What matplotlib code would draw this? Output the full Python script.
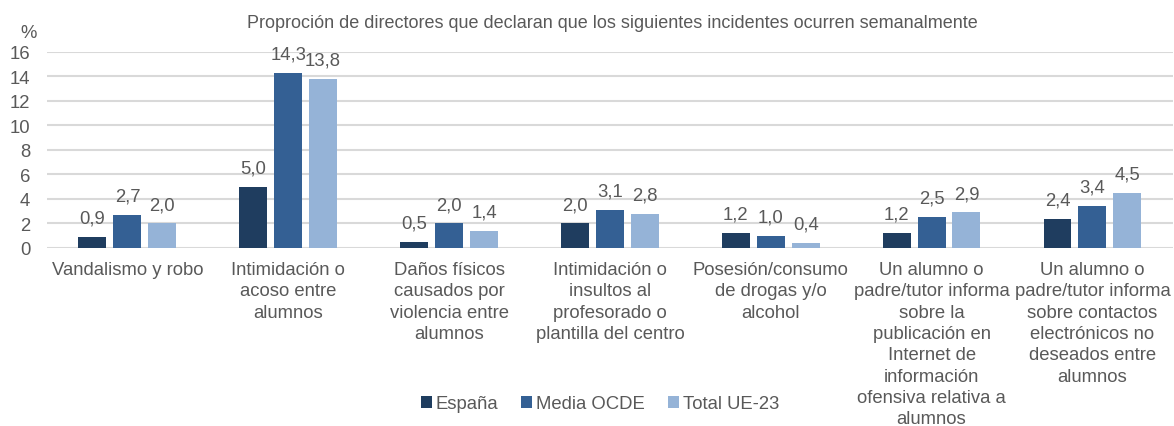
import matplotlib
matplotlib.use("Agg")
from matplotlib import pyplot as plt
import numpy as np

plt.rcParams['font.family'] = ['Liberation Sans', 'DejaVu Sans']

# categories and series (values in %)
categories = ["Vandalismo y robo",
              "Intimidación o\nacoso entre\nalumnos",
              "Daños físicos\ncausados por\nviolencia entre\nalumnos",
              "Intimidación o\ninsultos al\nprofesorado o\nplantilla del centro",
              "Posesión/consumo\nde drogas y/o\nalcohol",
              "Un alumno o\npadre/tutor informa\nsobre la\npublicación en\nInternet de\ninformación\nofensiva relativa a\nalumnos",
              "Un alumno o\npadre/tutor informa\nsobre contactos\nelectrónicos no\ndeseados entre\nalumnos"]
espana = [0.9, 5.0, 0.5, 2.0, 1.2, 1.2, 2.4]
ocde = [2.7, 14.3, 2.0, 3.1, 1.0, 2.5, 3.4]
ue23 = [2.0, 13.8, 1.4, 2.8, 0.4, 2.9, 4.5]
series_names = ["España", "Media OCDE", "Total UE-23"]
colors = ["#1F3D5F", "#346094", "#95B3D7"]
grey = "#595959"
fs = 13.3

fig = plt.figure(figsize=(11.74, 4.27), dpi=100)
ax = fig.add_axes([0.040, 0.417, 0.959, 0.459])

x = np.arange(len(categories))
width = 0.174
step = 0.217
for i, (vals, name, col) in enumerate(zip([espana, ocde, ue23], series_names, colors)):
    pos = x + (i - 1) * step
    bars = ax.bar(pos, vals, width, color=col, label=name, zorder=3)
    for b, v in zip(bars, vals):
        ax.annotate(f"{v:.1f}".replace(".", ","), (b.get_x() + b.get_width() / 2, v),
                    xytext=(0, 7.5), textcoords="offset points", ha="center", va="bottom",
                    fontsize=fs, color=grey)

ax.set_xlim(-0.5, len(categories) - 0.5)
ax.set_ylim(0, 16)
ax.set_yticks(range(0, 17, 2))
ax.yaxis.grid(True, color="#D9D9D9", linewidth=1.5, zorder=0)
for s in ax.spines.values():
    s.set_visible(False)
ax.tick_params(axis="both", length=0, labelsize=fs, labelcolor=grey)
ax.tick_params(axis="y", pad=12)
ax.tick_params(axis="x", pad=9.5)
ax.set_xticks(x)
ax.set_xticklabels(categories, linespacing=1.33)

fig.text(0.017, 0.922, "%", fontsize=fs, color=grey, ha="left", va="center")
fig.text(0.522, 0.944, "Proproción de directores que declaran que los siguientes incidentes ocurren semanalmente",
         fontsize=13, color=grey, ha="center", va="center")

leg = fig.legend(loc="center", bbox_to_anchor=(0.511, 0.052), ncol=3, frameon=False,
                 fontsize=fs, handlelength=0.6, handleheight=0.6, handletextpad=0.2,
                 columnspacing=1.25)
for t in leg.get_texts():
    t.set_color(grey)

fig.savefig("out.png", dpi=100)
